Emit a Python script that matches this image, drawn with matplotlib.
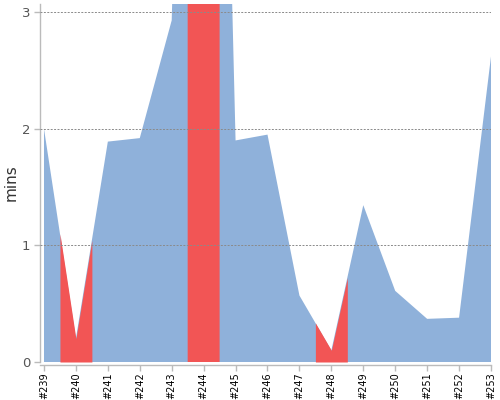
import numpy as np
import matplotlib
matplotlib.use("Agg")
import matplotlib.pyplot as plt

builds = list(range(239, 254))
labels = ["#%d" % b for b in builds]
mins = [2.0, 0.2, 1.89, 1.92, 2.93, 13.0, 1.9, 1.95, 0.57, 0.1, 1.345, 0.61, 0.37, 0.38, 2.62]
highlight = [240, 244, 248]

BLUE = "#8fb1da"
RED = "#f25555"

fig = plt.figure(figsize=(5, 4), dpi=100)
ax = fig.add_axes([0.08, 0.095, 0.902, 0.895])

x = np.array(builds, dtype=float)
y = np.array(mins, dtype=float)
ax.fill_between(x, y, 0, color=BLUE, linewidth=0, zorder=1)
for h in highlight:
    xs = np.linspace(h - 0.5, h + 0.5, 201)
    ys = np.interp(xs, x, y)
    ax.fill_between(xs, ys, 0, color=RED, linewidth=0, zorder=2)

ax.set_xlim(238.875, 253)
ax.set_ylim(0, 3.07)
ax.set_yticks([0, 1, 2, 3])
ax.set_xticks(builds)

for v in [1, 2, 3]:
    ax.axhline(v, color="#8a8a8a", linewidth=0.7, linestyle=(0, (2, 1.5)), zorder=3)

for s in ["top", "right"]:
    ax.spines[s].set_visible(False)
for s in ["left", "bottom"]:
    ax.spines[s].set_color("#bbbbbb")
    ax.spines[s].set_linewidth(1.0)
ax.spines["bottom"].set_position(("outward", 2))
ax.tick_params(axis="both", colors="#bbbbbb", length=4, width=1)
ax.tick_params(axis="x", labelcolor="black", pad=1.5, labelrotation=90, labelsize=7)
ax.tick_params(axis="y", labelcolor="#555555", pad=3, labelsize=9.5)
ax.set_xticklabels(labels)

ax.set_ylabel("mins", fontsize=11, color="#333333", labelpad=2)

fig.savefig("out.png", dpi=100)
